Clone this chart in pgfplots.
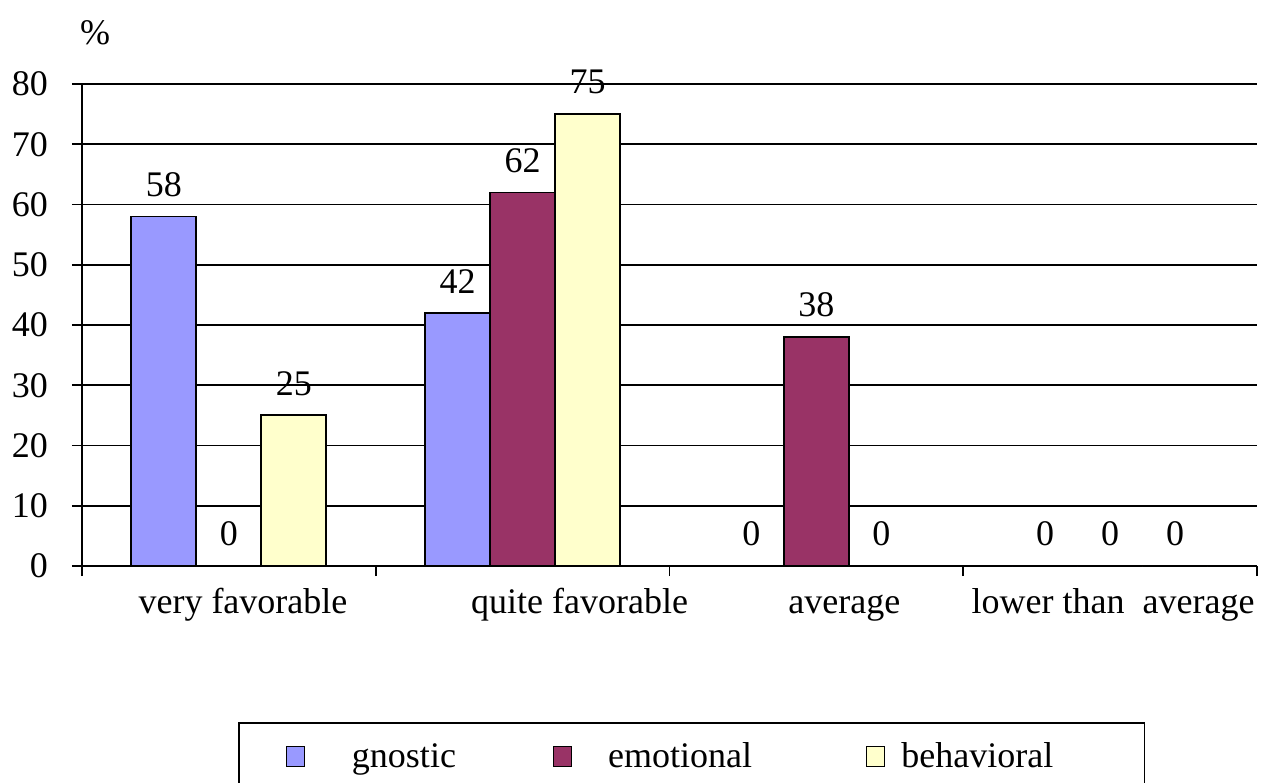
\documentclass[border=0pt]{standalone}
\usepackage{fontspec}
\setmainfont{Liberation Serif}
\usepackage{pgfplots}
\pgfplotsset{compat=1.18}
\definecolor{gn}{HTML}{9999FF}
\definecolor{em}{HTML}{993366}
\definecolor{be}{HTML}{FFFFCC}
\begin{document}
\begin{tikzpicture}[font=\fontsize{18}{21}\selectfont]
\begin{axis}[name=ax,
  scale only axis, width=587.5pt, height=241pt,
  xmin=-0.5, xmax=3.5, ymin=0, ymax=80,
  ytick={0,10,...,80},
  xtick={-0.5,0.5,1.5,2.5,3.5}, xticklabels={},
  axis x line*=bottom, axis y line*=left,
  axis line style={-, line width=0.9pt, black},
  tick align=outside, major tick length=5pt,
  tick style={line width=0.9pt, black},
  ymajorgrids, grid style={line width=0.9pt, black},
  /pgf/number format/assume math mode=true,
  tick label style={font=\fontsize{18}{21}\selectfont},
  yticklabel style={xshift=-8.5pt},
  clip=false,
  ybar=0pt, bar width=32.5pt,
  nodes near coords,
  nodes near coords style={font=\fontsize{18}{21}\selectfont, inner sep=0pt, anchor=south, yshift=9.5pt, black},
  every axis plot/.append style={draw=black, line width=0.9pt},
  legend style={at={(0.1328,-0.3237)}, anchor=north west, draw=black, line width=0.75pt,
    inner xsep=23.5pt, inner ysep=10pt, column sep=0pt,
    nodes={inner sep=0pt, font=\fontsize{18}{21}\selectfont}},
  legend columns=3,
  legend image code/.code={\draw[#1, line width=0.6pt] (0pt,-5pt) rectangle (9pt,5pt);},
]
\addplot[fill=gn] coordinates {(0,58) (1,42) (2,0) (3,0)};
\addplot[fill=em] coordinates {(0,0) (1,62) (2,38) (3,0)};
\addplot[fill=be] coordinates {(0,25) (1,75) (2,0) (3,0)};
\addlegendentry{\makebox[124pt][l]{\hspace{23.5pt}gnostic}}
\addlegendentry{\makebox[147pt][l]{\hspace{18pt}emotional}}
\addlegendentry{\makebox[106pt][l]{\hspace{8pt}behavioral}}
\node at (axis cs:0.048,0) [anchor=base, yshift=-23.5pt] {very favorable};
\node at (axis cs:1.194,0) [anchor=base, yshift=-23.5pt] {quite favorable};
\node at (axis cs:2.095,0) [anchor=base, yshift=-23.5pt] {average};
\node at (axis cs:3.01,0) [anchor=base, yshift=-23.5pt] {lower than\ \ average};
\node at (axis cs:-0.5,80) [xshift=6.5pt, yshift=25.5pt] {\%};
\end{axis}
\pgfresetboundingbox
\path[use as bounding box] (ax.south west) ++(-41pt,-108pt) rectangle ++(631pt,391pt);
\end{tikzpicture}
\end{document}
